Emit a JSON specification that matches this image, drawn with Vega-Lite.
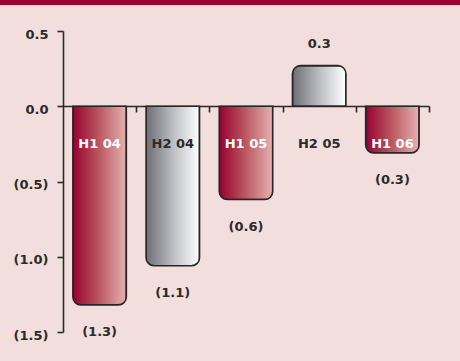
{
  "$schema": "https://vega.github.io/schema/vega-lite/v6.json",
  "width": 366,
  "height": 301,
  "autosize": {"type": "none"},
  "padding": {"left": 63, "top": 31, "right": 31, "bottom": 29},
  "background": "#f2dedd",
  "config": {
    "view": {"stroke": null},
    "axis": {
      "labelFont": "DejaVu Sans",
      "labelFontWeight": "bold",
      "labelFontSize": 13,
      "labelColor": "#2a2a2a",
      "domainColor": "#2a2a2a",
      "tickColor": "#2a2a2a",
      "domainWidth": 1.6,
      "tickWidth": 1.6,
      "grid": false,
      "title": null
    }
  },
  "data": {
    "values": [
      {"period": "H1 04", "value": -1.32, "label": "(1.3)", "kind": "H1"},
      {"period": "H2 04", "value": -1.06, "label": "(1.1)", "kind": "H2"},
      {"period": "H1 05", "value": -0.62, "label": "(0.6)", "kind": "H1"},
      {"period": "H2 05", "value": 0.27, "label": "0.3", "kind": "H2"},
      {"period": "H1 06", "value": -0.31, "label": "(0.3)", "kind": "H1"}
    ]
  },
  "layer": [
    {
      "data": {"values": [{}]},
      "mark": {"type": "rule", "clip": false, "strokeWidth": 5, "color": "#9c0030"},
      "encoding": {
        "x": {"value": -63},
        "x2": {"value": 397},
        "y": {"value": -28.5}
      }
    },
    {
      "encoding": {
        "x": {
          "field": "period",
          "type": "nominal",
          "sort": ["H1 04", "H2 04", "H1 05", "H2 05", "H1 06"],
          "scale": {"paddingInner": 0.27, "paddingOuter": 0.135},
          "axis": {
            "orient": "bottom",
            "offset": -226,
            "labels": false,
            "ticks": true,
            "tickOffset": 36.6,
            "tickSize": 6,
            "domain": true
          }
        },
        "y": {
          "field": "value",
          "type": "quantitative",
          "scale": {"domain": [-1.5, 0.5], "nice": false, "zero": false},
          "axis": {
            "values": [-1.5, -1, -0.5, 0, 0.5],
            "labelExpr": "datum.value < 0 ? '(' + format(-datum.value, '.1f') + ')' : format(datum.value, '.1f')",
            "tickSize": 6,
            "labelPadding": 9,
            "labelOffset": 3
          }
        }
      },
      "layer": [
        {
          "transform": [{"filter": "datum.kind == 'H1' && datum.value < 0"}],
          "mark": {
            "type": "bar",
            "cornerRadiusBottomLeft": 8,
            "cornerRadiusBottomRight": 8,
            "stroke": "#262626",
            "strokeWidth": 1.6,
            "fill": {
              "gradient": "linear", "x1": 0, "y1": 0, "x2": 1, "y2": 0,
              "stops": [
                {"offset": 0, "color": "#980030"},
                {"offset": 0.5, "color": "#bb5a62"},
                {"offset": 1, "color": "#e6b2b2"}
              ]
            }
          }
        },
        {
          "transform": [{"filter": "datum.kind == 'H2' && datum.value < 0"}],
          "mark": {
            "type": "bar",
            "cornerRadiusBottomLeft": 8,
            "cornerRadiusBottomRight": 8,
            "stroke": "#262626",
            "strokeWidth": 1.6,
            "fill": {
              "gradient": "linear", "x1": 0, "y1": 0, "x2": 1, "y2": 0,
              "stops": [
                {"offset": 0, "color": "#6c6e73"},
                {"offset": 0.5, "color": "#bcbdc1"},
                {"offset": 1, "color": "#ffffff"}
              ]
            }
          }
        },
        {
          "transform": [{"filter": "datum.kind == 'H2' && datum.value >= 0"}],
          "mark": {
            "type": "bar",
            "cornerRadiusTopLeft": 8,
            "cornerRadiusTopRight": 8,
            "stroke": "#262626",
            "strokeWidth": 1.6,
            "fill": {
              "gradient": "linear", "x1": 0, "y1": 0, "x2": 1, "y2": 0,
              "stops": [
                {"offset": 0, "color": "#6c6e73"},
                {"offset": 0.5, "color": "#bcbdc1"},
                {"offset": 1, "color": "#ffffff"}
              ]
            }
          }
        },
        {
          "mark": {"type": "text", "font": "DejaVu Sans", "fontWeight": "bold", "fontSize": 13, "baseline": "middle"},
          "encoding": {
            "y": {"datum": -0.25},
            "text": {"field": "period"},
            "color": {
              "condition": {"test": "datum.kind == 'H1'", "value": "#ffffff"},
              "value": "#2a2a2a"
            }
          }
        },
        {
          "transform": [{"filter": "datum.value < 0"}],
          "mark": {"type": "text", "font": "DejaVu Sans", "fontWeight": "bold", "fontSize": 13, "baseline": "middle", "dy": 27, "color": "#2a2a2a"},
          "encoding": {"text": {"field": "label"}}
        },
        {
          "transform": [{"filter": "datum.value >= 0"}],
          "mark": {"type": "text", "font": "DejaVu Sans", "fontWeight": "bold", "fontSize": 13, "baseline": "middle", "dy": -22, "color": "#2a2a2a"},
          "encoding": {"text": {"field": "label"}}
        }
      ]
    }
  ]
}
